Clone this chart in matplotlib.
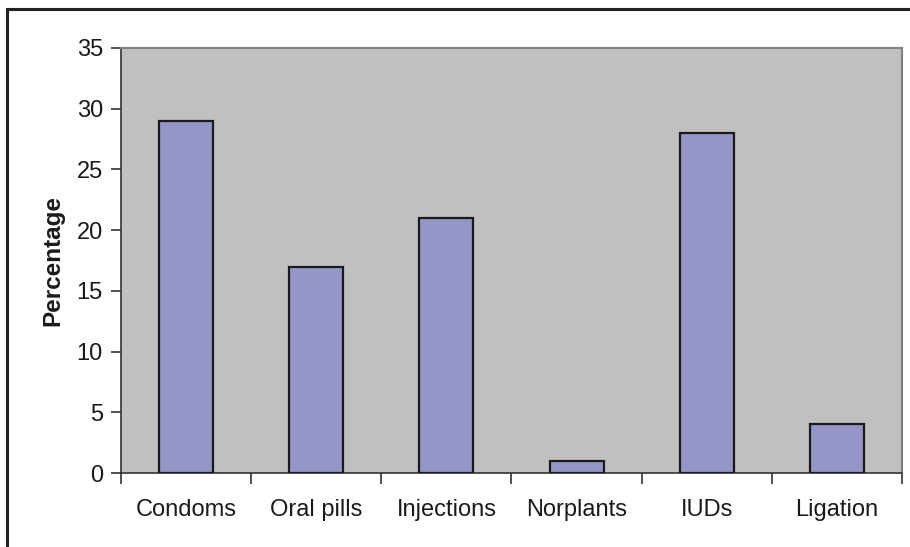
import matplotlib
matplotlib.use("Agg")
import matplotlib.pyplot as plt
from matplotlib.patches import Rectangle
import numpy as np

categories = ["Condoms", "Oral pills", "Injections", "Norplants", "IUDs", "Ligation"]
values = [29, 17, 21, 1, 28, 4]
yticks = [0, 5, 10, 15, 20, 25, 30, 35]

plt.rcParams['font.family'] = ['Liberation Sans', 'DejaVu Sans']

W, H = 910, 547
fig = plt.figure(figsize=(W / 100, H / 100), dpi=100)
ax = fig.add_axes([121 / W, 1 - 473 / H, (902 - 121) / W, (473 - 48) / H])
ax.set_facecolor('#C0C0C0')

x = np.arange(len(categories))
ax.bar(x, values, width=0.415, color='#9595C8', edgecolor='#1a1a1a', linewidth=1.6, zorder=3)

ax.set_xlim(-0.5, len(categories) - 0.5)
ax.set_ylim(0, 35)
ax.set_yticks(yticks)
ax.set_yticklabels([str(v) for v in yticks], fontsize=17, color='#1a1a1a')

ax.set_xticks(np.arange(len(categories) + 1) - 0.5)
ax.set_xticklabels([])
ax.set_xticks(x, minor=True)
ax.set_xticklabels(categories, minor=True, fontsize=17, color='#1a1a1a')
ax.tick_params(axis='x', which='major', length=8, width=1.2, color='#333333', direction='out')
ax.tick_params(axis='x', which='minor', length=0, pad=19)
ax.tick_params(axis='y', length=7, width=1.2, color='#333333', direction='out', pad=6)

ax.set_ylabel('Percentage', fontsize=17.5, fontweight='bold', color='#1a1a1a', labelpad=9)

for s in ['top', 'right']:
    ax.spines[s].set_color('#808080')
    ax.spines[s].set_linewidth(1.5)
for s in ['left', 'bottom']:
    ax.spines[s].set_color('#333333')
    ax.spines[s].set_linewidth(1.2)

frame = Rectangle((7 / W, -0.1), 1.0, (1 - 9 / H) + 0.1, fill=False, linewidth=2.2,
                  edgecolor='#222222', transform=fig.transFigure, clip_on=False)
fig.add_artist(frame)

fig.savefig('out.png', dpi=100, facecolor='white')
